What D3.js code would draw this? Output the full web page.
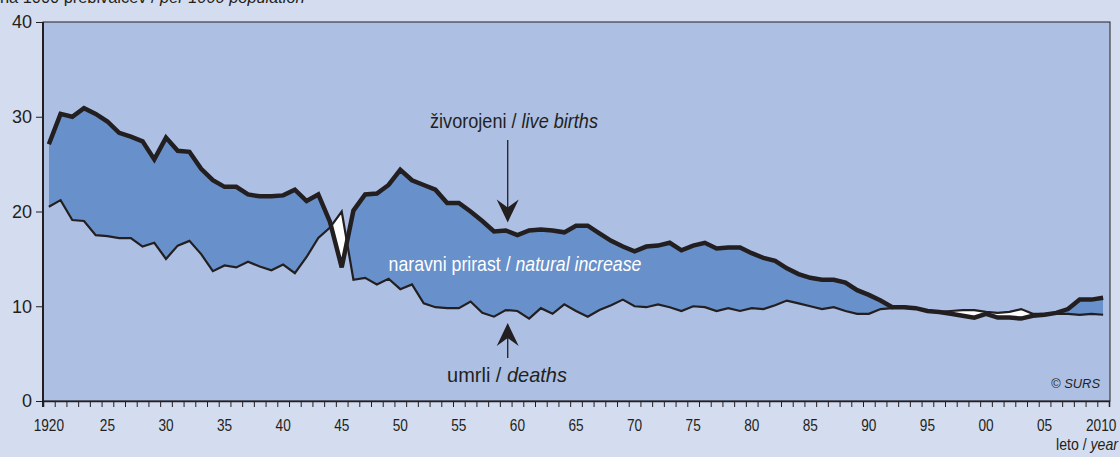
<!DOCTYPE html>
<html>
<head>
<meta charset="utf-8">
<script src="https://cdn.jsdelivr.net/npm/d3@7"></script>
<style>
  html, body { margin: 0; padding: 0; background: #d4ddef; }
  svg { display: block; }
  text { font-family: "Liberation Sans", "DejaVu Sans", sans-serif; fill: #231f20; }
</style>
</head>
<body>
<svg id="chart"></svg>
<script>
// values per 1000 population
const years = d3.range(1920, 2011);
const liveBirths = [
  27.1, 30.3, 30.0, 30.9, 30.3, 29.5, 28.3, 27.9, 27.4, 25.5,
  27.8, 26.4, 26.3, 24.5, 23.3, 22.6, 22.6, 21.8, 21.6, 21.6,
  21.7, 22.3, 21.1, 21.8, 18.9, 14.1, 20.1, 21.8, 21.9, 22.8,
  24.4, 23.3, 22.8, 22.3, 20.9, 20.9, 20.0, 19.0, 17.9, 18.0,
  17.5, 18.0, 18.1, 18.0, 17.8, 18.5, 18.5, 17.7, 16.9, 16.3,
  15.8, 16.3, 16.4, 16.7, 15.9, 16.4, 16.7, 16.1, 16.2, 16.2,
  15.6, 15.1, 14.8, 14.0, 13.4, 13.0, 12.8, 12.8, 12.5, 11.7,
  11.2, 10.6, 9.9, 9.9, 9.8, 9.5, 9.4, 9.2, 9.0, 8.8,
  9.2, 8.8, 8.8, 8.7, 9.0, 9.1, 9.3, 9.7, 10.7, 10.7,
  10.9
];
const deaths = [
  20.5, 21.2, 19.1, 19.0, 17.5, 17.4, 17.2, 17.2, 16.3, 16.7,
  15.0, 16.4, 16.9, 15.5, 13.7, 14.3, 14.1, 14.7, 14.2, 13.8,
  14.4, 13.5, 15.2, 17.2, 18.3, 20.0, 12.8, 13.0, 12.3, 12.9,
  11.8, 12.3, 10.3, 9.9, 9.8, 9.8, 10.5, 9.3, 8.9, 9.6,
  9.5, 8.7, 9.8, 9.2, 10.2, 9.5, 8.9, 9.6, 10.1, 10.7,
  10.0, 9.9, 10.2, 9.9, 9.5, 10.0, 9.9, 9.5, 9.8, 9.5,
  9.8, 9.7, 10.1, 10.6, 10.3, 10.0, 9.7, 9.9, 9.5, 9.2,
  9.2, 9.7, 9.8, 10.0, 9.8, 9.5, 9.4, 9.5, 9.6, 9.6,
  9.4, 9.3, 9.4, 9.7, 9.2, 9.2, 9.2, 9.2, 9.1, 9.2,
  9.1
];
const yTicks = [0, 10, 20, 30, 40];
const xLabelYears = d3.range(1920, 2011, 5);

const width = 1120;
const height = 457;
const plot = { left: 43, right: 1110, top: 22, bottom: 401 };

const COLORS = {
  plotBg: "#adc0e3",
  fill: "#6890ca",
  ink: "#231f20",
};

const rows = years.map((yr, i) => ({ year: yr, births: liveBirths[i], deaths: deaths[i] }));

const svg = d3.select("#chart").attr("width", width).attr("height", height);

// ticks sit on year boundaries, values in the middle of each year
const x = d3.scaleLinear().domain([1920, 2011]).range([plot.left, plot.right - 1]);
const y = d3.scaleLinear().domain([0, 40]).range([plot.bottom, plot.top]);
const xMid = (yr) => x(yr + 0.5);

svg.append("rect")
  .attr("x", plot.left).attr("y", plot.top)
  .attr("width", plot.right - plot.left).attr("height", plot.bottom - plot.top)
  .attr("fill", COLORS.plotBg);

const defs = svg.append("defs");

// region under each curve, used to split the band into blue (increase) and white (decrease)
defs.append("clipPath").attr("id", "below-births")
  .append("path")
  .attr("d", d3.area().x((d) => xMid(d.year)).y0(plot.bottom).y1((d) => y(d.births))(rows));
defs.append("clipPath").attr("id", "below-deaths")
  .append("path")
  .attr("d", d3.area().x((d) => xMid(d.year)).y0(plot.bottom).y1((d) => y(d.deaths))(rows));

svg.append("path")
  .attr("d", d3.area().x((d) => xMid(d.year)).y0((d) => y(d.deaths)).y1(plot.top)(rows))
  .attr("clip-path", "url(#below-births)")
  .attr("fill", COLORS.fill);

svg.append("path")
  .attr("d", d3.area().x((d) => xMid(d.year)).y0((d) => y(d.births)).y1(plot.top)(rows))
  .attr("clip-path", "url(#below-deaths)")
  .attr("fill", "#ffffff");

const line = (key) => d3.line().x((d) => xMid(d.year)).y((d) => y(d[key]));

svg.append("path")
  .attr("d", line("deaths")(rows))
  .attr("fill", "none")
  .attr("stroke", COLORS.ink)
  .attr("stroke-width", 2.2)
  .attr("stroke-linejoin", "miter");

svg.append("path")
  .attr("d", line("births")(rows))
  .attr("fill", "none")
  .attr("stroke", COLORS.ink)
  .attr("stroke-width", 4.5)
  .attr("stroke-linejoin", "miter");

// frame
svg.append("rect")
  .attr("x", plot.left).attr("y", plot.top)
  .attr("width", plot.right - plot.left).attr("height", plot.bottom - plot.top)
  .attr("fill", "none")
  .attr("stroke", COLORS.ink)
  .attr("stroke-width", 1);
svg.append("line")
  .attr("x1", plot.left).attr("x2", plot.left)
  .attr("y1", plot.top).attr("y2", plot.bottom + 6)
  .attr("stroke", COLORS.ink).attr("stroke-width", 2);

// y axis
const yAxis = svg.append("g")
  .attr("transform", `translate(${plot.left},0)`)
  .call(d3.axisLeft(y).tickValues(yTicks).tickSize(7).tickPadding(4));
yAxis.select(".domain").remove();
yAxis.selectAll(".tick line").attr("stroke", COLORS.ink).attr("stroke-width", 1);
yAxis.selectAll(".tick text")
  .attr("font-size", 18)
  .style("font-family", "'Liberation Sans', sans-serif")
  .attr("fill", COLORS.ink);

// x axis: a tick every year, labels every fifth year
const xAxis = svg.append("g")
  .attr("transform", `translate(0,${plot.bottom})`)
  .call(d3.axisBottom(x).tickValues(d3.range(1920, 2012)).tickSize(6).tickFormat(""));
xAxis.select(".domain").attr("stroke", COLORS.ink).attr("stroke-width", 1.5);
xAxis.selectAll(".tick line").attr("stroke", COLORS.ink).attr("stroke-width", 1);

// the original uses a condensed face: draw at the origin, then squeeze horizontally to the wanted width
function condensed(px, py, width, anchor = "middle") {
  const g = svg.append("g");
  const t = g.append("text").attr("x", 0).attr("y", 0).attr("text-anchor", anchor);
  return {
    text: t,
    fit() {
      const w = t.node().getComputedTextLength();
      g.attr("transform", `translate(${px},${py}) scale(${width / w},1)`);
    },
  };
}

const yearLabel = (d) => (d === 1920 || d === 2010 ? String(d) : String(d % 100).padStart(2, "0"));
xLabelYears.forEach((d) => {
  const lbl = yearLabel(d);
  const c = condensed(d === 2010 ? xMid(d) - 2 : xMid(d), 431, lbl.length * 7.6);
  c.text.attr("font-size", 17).text(lbl);
  c.fit();
});

// titles and annotations, Slovene upright + English italic
function bilingual(px, py, width, size, sl, en, anchor = "middle") {
  const c = condensed(px, py, width, anchor);
  c.text.attr("font-size", size);
  c.text.append("tspan").text(sl);
  c.text.append("tspan").attr("font-style", "italic").text(en);
  c.fit();
  return c.text;
}

bilingual(0, 3, 305, 16, "na 1000  prebivalcev / ", "per 1000 population", "start");
bilingual(1118, 450, 62, 16, "leto / ", "year", "end");

const surs = condensed(1100, 388, 49, "end");
surs.text.attr("font-size", 13).attr("font-style", "italic").text("© SURS");
surs.fit();

const annoYear = 1959;
const annoX = xMid(annoYear) + 2;
const row = rows.find((d) => d.year === annoYear);

bilingual(514, 128, 168, 20, "živorojeni / ", "live births");
bilingual(515, 271, 253, 20, "naravni prirast / ", "natural increase").style("fill", "#ffffff");
bilingual(507, 382, 120, 20, "umrli / ", "deaths");

// barbed arrow, tip at (0,0) pointing down
const arrowHead = "M0,0 L-11,-23 L0,-15 L11,-23 Z";

const downTip = y(row.births) - 8;
svg.append("line")
  .attr("x1", annoX).attr("x2", annoX)
  .attr("y1", 140).attr("y2", downTip - 10)
  .attr("stroke", COLORS.ink).attr("stroke-width", 1.3);
svg.append("path")
  .attr("d", arrowHead)
  .attr("transform", `translate(${annoX},${downTip})`)
  .attr("fill", COLORS.ink);

const upTip = y(row.deaths) + 13;
svg.append("line")
  .attr("x1", annoX).attr("x2", annoX)
  .attr("y1", upTip + 10).attr("y2", 358)
  .attr("stroke", COLORS.ink).attr("stroke-width", 1.3);
svg.append("path")
  .attr("d", arrowHead)
  .attr("transform", `translate(${annoX},${upTip}) rotate(180)`)
  .attr("fill", COLORS.ink);
</script>
</body>
</html>
